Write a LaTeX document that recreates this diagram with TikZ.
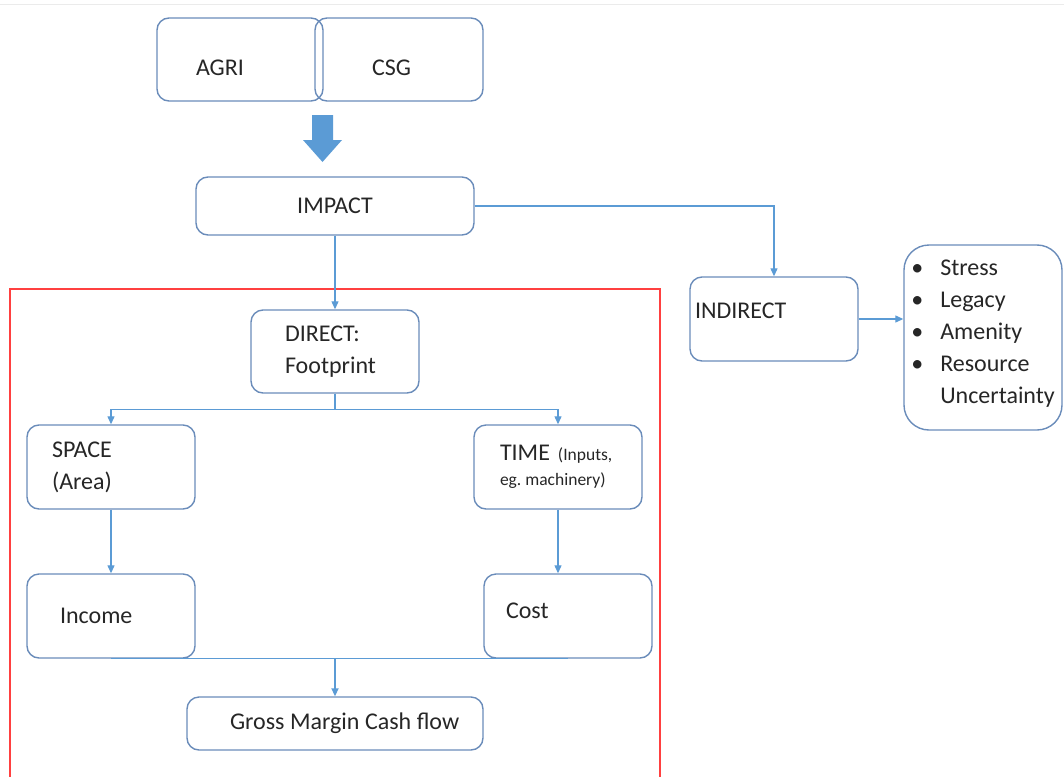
\documentclass[tikz,border=0pt]{standalone}
\usepackage{fontspec}
\setmainfont{Carlito}
\usetikzlibrary{arrows.meta}
\definecolor{boxblue}{HTML}{6A8CBA}
\definecolor{linkblue}{HTML}{5B9BD5}
\definecolor{framered}{HTML}{FF4040}
\newcommand{\bigtxt}{\fontsize{24}{32}\selectfont\spaceskip=5.5pt\relax}
\newcommand{\smalltxt}{\fontsize{17.5}{22}\selectfont\spaceskip=4pt\relax}
\frenchspacing

\begin{document}
\begin{tikzpicture}[x=1pt,y=-1pt,>={Triangle[length=8pt,width=7pt]},
  box/.style={draw=boxblue,line width=1.4pt,rounded corners=12pt,font=\bigtxt,text=black!85,minimum height=84pt,align=left},
  link/.style={draw=linkblue,line width=1.2pt}]

  \useasboundingbox (0,0) rectangle (1064,776);
  \draw[black!8] (0,4) -- (1064,4);

  \node[box,minimum height=83pt,inner xsep=39pt,text width=88pt] (agri) at (240,59.5) {\rule{0pt}{32pt}AGRI};
  \node[box,minimum height=83pt,inner xsep=57pt,text width=54pt] (csg) at (399,59.5) {\rule{0pt}{32pt}CSG};
  \fill[linkblue] (312,115) -- (333,115) -- (333,140) -- (342,140) -- (322.5,162) -- (303,140) -- (312,140) -- cycle;

  \node[box,minimum width=278pt,minimum height=58pt,align=center] (impact) at (335,206) {IMPACT};
  \node[box,inner xsep=5pt,text width=158pt] (indirect) at (774,319) {INDIRECT\rule[-16pt]{0pt}{0pt}};
  \node[box,rounded corners=25pt,minimum width=158pt,minimum height=185pt] (list) at (983,337.5)
    {\makebox[29pt][l]{\textbullet}Stress\\
     \makebox[29pt][l]{\textbullet}Legacy\\
     \makebox[29pt][l]{\textbullet}Amenity\\
     \makebox[29pt][l]{\textbullet}Resource\\
     \hspace*{29pt}Uncertainty\rule[-12pt]{0pt}{0pt}};

  \draw[framered,line width=1.2pt] (10,790) -- (10,289) -- (660,289) -- (660,790);

  \node[box,minimum height=83pt,inner xsep=34pt,text width=100pt] (direct) at (335,351.5) {DIRECT:\\Footprint};
  \node[box,inner xsep=25pt,text width=118pt] (space) at (111,467) {SPACE\\(Area)};
  \node[box,inner xsep=26pt,text width=116pt] (time) at (558,467) {\mbox{TIME {\smalltxt(Inputs,}}\\[-7pt]\mbox{\smalltxt eg. machinery)}};
  \node[box,inner xsep=33pt,text width=102pt] (income) at (111,616) {Income};
  \node[box,inner xsep=22pt,text width=124pt] (cost) at (568,616) {Cost\rule[-10pt]{0pt}{0pt}};
  \node[box,minimum height=53pt,inner xsep=43pt,text width=210pt] (gross) at (335,723.5) {\mbox{\spaceskip=5.5pt Gross Margin Cash flow}};

  \draw[link,->] (impact.south) -- (direct.north);
  \draw[link,->] (impact.east) -| (indirect.north);
  \draw[link,->] (indirect.east) -- (indirect.east -| list.west);
  \draw[link,->] (direct.south) -- ++(0,16) -| (space.north);
  \draw[link,->] (direct.south) -- ++(0,16) -| (time.north);
  \draw[link,->] (space.south) -- (income.north);
  \draw[link,->] (time.south) -- (time.south |- cost.north);
  \draw[link] (income.south) -- (cost.south);
  \draw[link,->,line width=1.8pt] (gross.north |- income.south) -- (gross.north);
\end{tikzpicture}
\end{document}
